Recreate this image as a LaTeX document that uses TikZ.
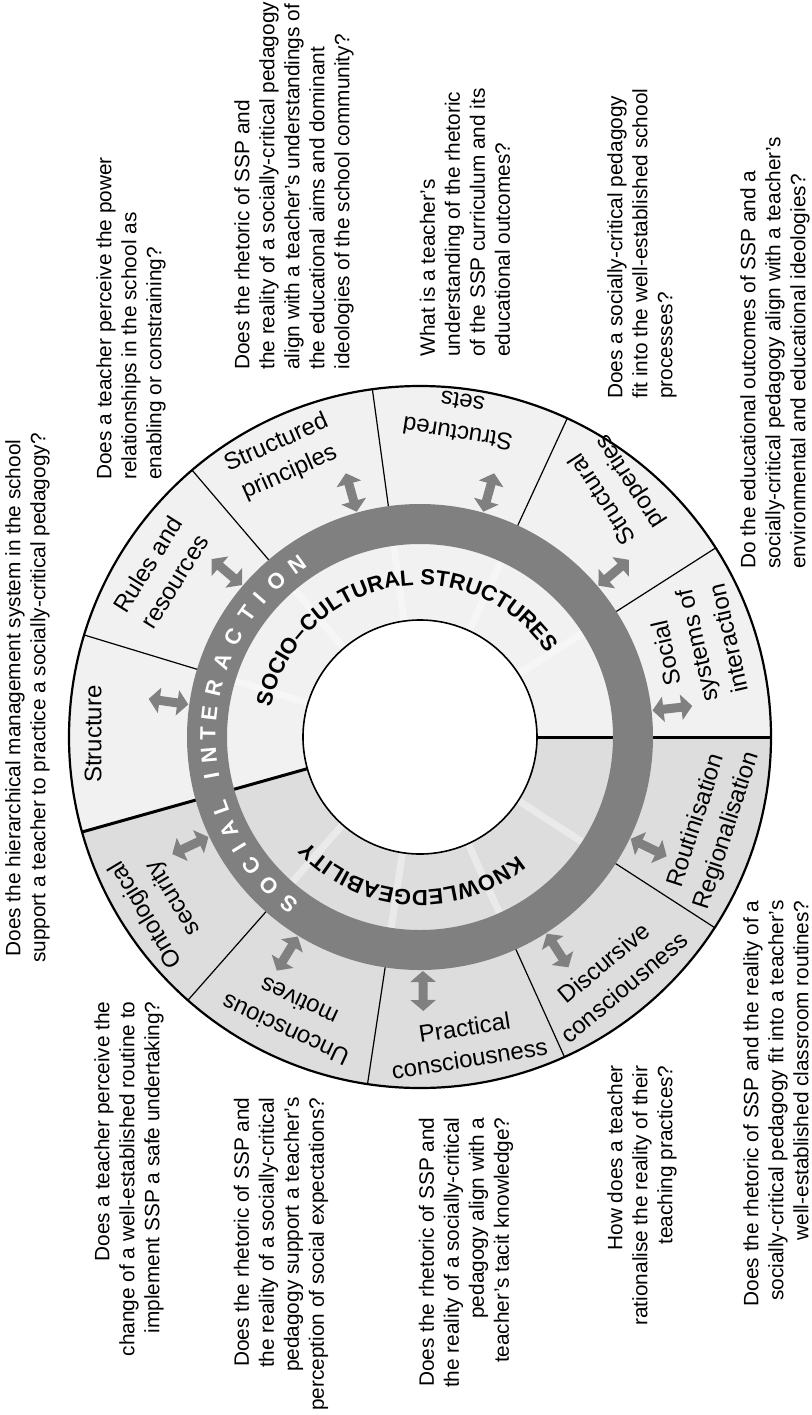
\documentclass[tikz,border=0pt]{standalone}
\usepackage{fontspec}
\setmainfont{Liberation Sans}
\usetikzlibrary{arrows.meta,decorations.text}
\definecolor{wheelLight}{RGB}{241,241,241}
\definecolor{wheelShade}{RGB}{221,221,221}
\definecolor{wheelDark}{RGB}{128,128,128}

\begin{document}
\begin{tikzpicture}[
  x=0.5pt, y=0.5pt,
  question/.style={rotate=90, inner sep=0pt, font=\fontsize{10.4}{12.5}\selectfont},
  qleft/.style={question, anchor=west, align=left},
  qright/.style={question, anchor=east, align=right},
  seglabel/.style={inner sep=0pt, align=center, font=\fontsize{12}{16}\selectfont},
  ringletter/.style={text=white, inner sep=0pt, font=\fontsize{11}{13}\selectfont\bfseries},
  divider/.style={black, line width=0.6pt},
  halfline/.style={black, line width=1.5pt},
  stripe/.style={white, opacity=0.4, line width=3.5pt},
  link/.style={wheelDark, line width=4.5pt,
    {Triangle[width=12.5pt,length=5.5pt]}-{Triangle[width=12.5pt,length=5.5pt]}}
]
\useasboundingbox (0,0) rectangle (812,-1415);

\begin{scope}[shift={(420,-737)}]
  % structure half and knowledgeability half
  \fill[wheelLight] (0,0) -- (0:351) arc[start angle=0, end angle=195.7, radius=351] -- cycle;
  \fill[wheelShade] (0,0) -- (195.7:351) arc[start angle=195.7, end angle=360, radius=351] -- cycle;
  \foreach \a in {32.6,65.2,97.8,130.5,163.1,228.6,261.4,294.3,327.1}{
    \draw[stripe] (\a:118) -- (\a:193);
    \draw[divider] (\a:230) -- (\a:351);
  }
  \draw[halfline] (0:117) -- (0:351);
  \draw[halfline] (195.7:117) -- (195.7:351);
  \fill[wheelDark, even odd rule] (0,0) circle[radius=233] (0,0) circle[radius=193];
  \draw[line width=0.8pt, fill=white] (0,0) circle[radius=117];
  \draw[line width=1.1pt] (0,0) circle[radius=351];

  % arrows between the ring and each segment
  \foreach \a [count=\i] in {172,139.5,105.7,74.3,40.3,6.5,334.2,302.8,270.7,238.5,205.3}{
    \coordinate (in-\i) at (\a:234);
    \coordinate (out-\i) at (\a:274);
    \draw[link] (in-\i) -- (out-\i);
  }

  \foreach \ch/\a [count=\i] in {S/232,O/224.5,C/217.5,I/211.5,A/206,L/199.5,
      I/190.5,N/185,T/179,E/173.5,R/166.5,A/159,C/151.8,T/144.5,I/139,O/132.7,N/125.5}
    \node[ringletter, rotate=\a-90] (si-\i) at (\a:212) {\ch};

  \path[decorate, decoration={text along path, text align=center,
      text={|\fontsize{11}{13}\selectfont\bfseries|SOCIO–CULTURAL STRUCTURES}}]
    (190:152) arc[start angle=190, end angle=12, radius=152];
  \path[decorate, decoration={text along path, text align=center,
      text={|\fontsize{11}{13}\selectfont\bfseries|KNOWLEDGEABILITY}}]
    (346.3:153) arc[start angle=346.3, end angle=186.3, radius=153];
\end{scope}

% segment names
\node[seglabel, rotate=90]  (l-structure)   at (93,-734)   {Structure};
\node[seglabel, rotate=58]  (l-rules)       at (161,-573)  {Rules and\\resources};
\node[seglabel, rotate=24]  (l-principles)  at (283,-458)  {Structured\\principles};
\node[seglabel, rotate=171] (l-sets)        at (460,-418)  {Structured\\sets};
\node[seglabel, rotate=123] (l-properties)  at (617,-490)  {Structural\\properties};
\node[seglabel, rotate=103] (l-systems)     at (697,-646)  {Social\\systems of\\interaction};
\node[seglabel, rotate=72]  (l-routine)     at (712,-826)  {Routinisation\\Regionalisation};
\node[seglabel, rotate=40]  (l-discursive)  at (614,-975)  {Discursive\\consciousness};
\node[seglabel, rotate=9]   (l-practical)   at (467,-1043) {Practical\\consciousness};
\node[seglabel, rotate=155] (l-motives)     at (292,-1016) {Unconscious\\motives};
\node[seglabel, rotate=121] (l-security)    at (160,-906)  {Ontological\\security};

% questions
\node[question, align=center] (q-structure) at (27.5,-698)
  {Does the hierarchical management system in the school\\support a teacher to practice a socially-critical pedagogy?};
\node[qleft] (q-rules) at (131,-480)
  {Does a teacher perceive the power\\relationships in the school as\\enabling or constraining?};
\node[qleft] (q-principles) at (294,-370)
  {Does the rhetoric of SSP and\\the reality of a socially-critical pedagogy\\align with a teacher’s understandings of\\the educational aims and dominant\\ideologies of the school community?};
\node[qleft] (q-sets) at (465,-357)
  {What is a teacher’s\\understanding of the rhetoric\\of the SSP curriculum and its\\educational outcomes?};
\node[qleft] (q-properties) at (642,-399)
  {Does a socially-critical pedagogy\\fit into the well-established school\\processes?};
\node[qleft] (q-systems) at (775,-569)
  {Do the educational outcomes of SSP and a\\socially-critical pedagogy align with a teacher’s\\environmental and educational ideologies?};
\node[qright] (q-security) at (129,-1001)
  {Does a teacher perceive the\\change of a well-established routine to\\implement SSP a safe undertaking?};
\node[qright] (q-motives) at (281,-1097)
  {Does the rhetoric of SSP and\\the reality of a socially-critical\\pedagogy support a teacher’s\\perception of social expectations?};
\node[qright] (q-practical) at (466,-1117)
  {Does the rhetoric of SSP and\\the reality of a socially-critical\\pedagogy align with a\\teacher’s tacit knowledge?};
\node[qright] (q-discursive) at (642,-1065)
  {How does a teacher\\rationalise the reality of their\\teaching practices?};
\node[qright] (q-routine) at (776,-900)
  {Does the rhetoric of SSP and the reality of a\\socially-critical pedagogy fit into a teacher’s\\well-established classroom routines?};

\end{tikzpicture}
\end{document}
